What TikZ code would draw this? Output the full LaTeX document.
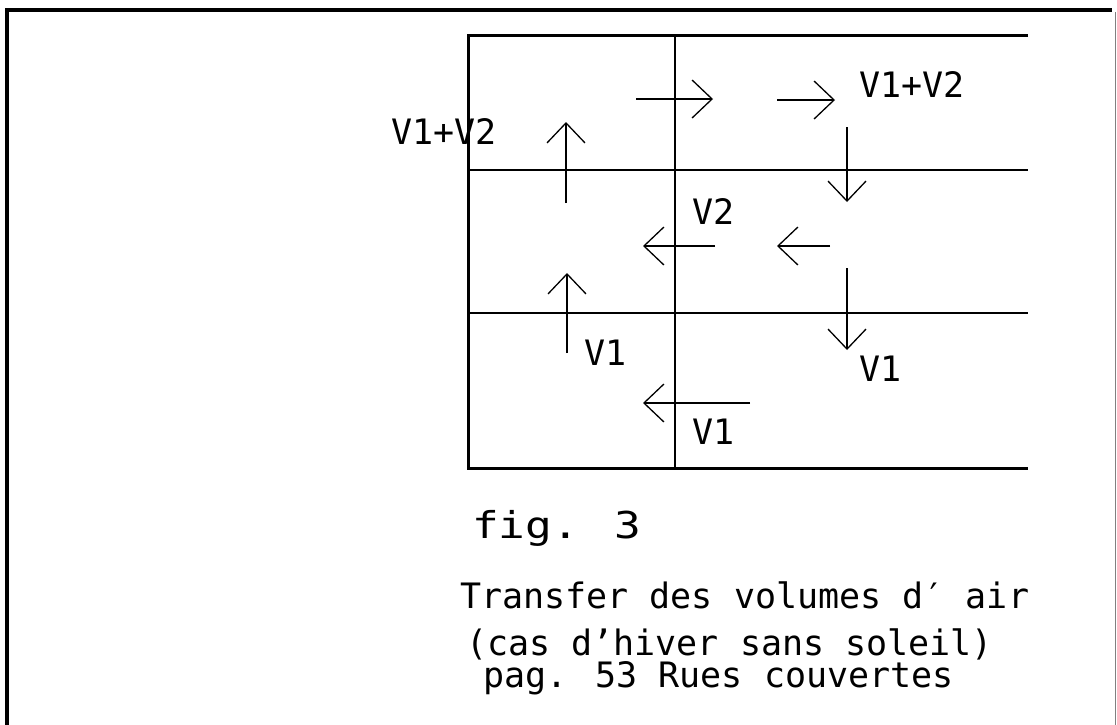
\documentclass[tikz,border=0pt]{standalone}
\usepackage{fontspec}
\usepackage{tikz}
\usetikzlibrary{arrows.meta}
\newfontfamily\dotfont{DejaVu Sans Mono}
\newfontfamily\figfont[FakeStretch=1.2]{DejaVu Sans Mono}

\begin{document}
\begin{tikzpicture}[x=1pt,y=-1pt,
    lbl/.style={font=\dotfont\fontsize{35}{40}\selectfont,inner sep=0pt,anchor=base west},
    flow/.style={line width=1.5pt,-{Straight Barb[length=20pt,width=38pt,line width=1.3pt]}},
    wall/.style={line width=3pt},
    floor/.style={line width=2.2pt}]
    \useasboundingbox (0,0) rectangle (1117,724);
    \draw[line width=4pt] (7,726) -- (7,10) -- (1112,10);
    \draw[gray,line width=1pt] (1115,12) -- (1115,726);

    \coordinate (tl) at (468,35);
    \coordinate (tr) at (1028,35);
    \coordinate (bl) at (468,468);
    \coordinate (br) at (1028,468);
    \draw[wall] (tr) -- (tl) -- (bl) -- (br);
    \draw[line width=1.6pt] (675,35) -- (675,468);
    \draw[floor] (468,170) -- (1028,170);
    \draw[floor] (468,313) -- (1028,313);

    \draw[flow] (566,203) -- (566,122);
    \draw[flow] (636,99) -- (713,99);
    \draw[flow] (777,100) -- (835,100);
    \draw[flow] (847,127) -- (847,202);
    \draw[flow] (715,246) -- (643,246);
    \draw[flow] (830,246) -- (777,246);
    \draw[flow] (567,353) -- (567,273);
    \draw[flow] (847,268) -- (847,350);
    \draw[flow] (750,403) -- (643,403);

    \node[lbl] (v12top) at (859,97) {V1+V2};
    \node[lbl] (v12left) at (391,144) {V1+V2};
    \node[lbl] (v2) at (692,224) {V2};
    \node[lbl] (v1up) at (584,365) {V1};
    \node[lbl] (v1down) at (859,381) {V1};
    \node[lbl] (v1left) at (692,444) {V1};

    \node[inner sep=0pt,anchor=base west,font=\figfont\fontsize{37}{40}\selectfont]
      (fig) at (472,538) {fig. 3};
    \node[lbl] (title) at (460,608) {Transfer des volumes d′ air};
    \node[lbl] (case) at (466,655) {(cas d’hiver sans soleil)};
    \node[lbl] (src) at (483,687) {pag. 53 Rues couvertes};
  \end{tikzpicture}
\end{document}
